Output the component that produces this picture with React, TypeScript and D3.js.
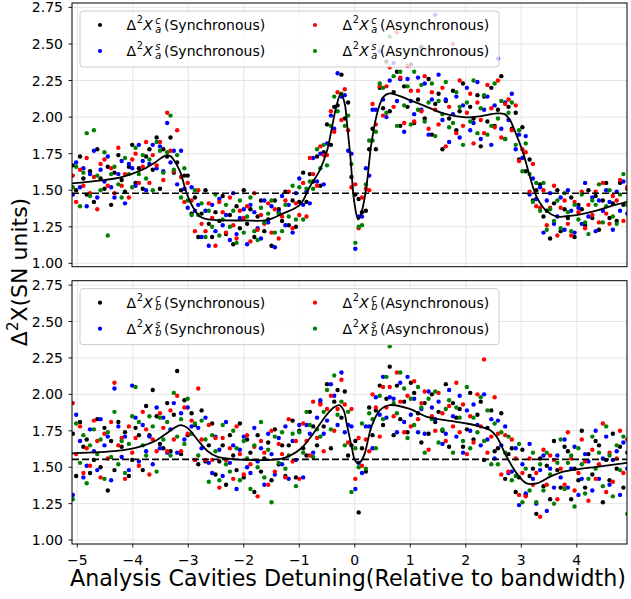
import React from "react";
import * as d3 from "d3";

// Detuning grid (relative to bandwidth) shared by all measured series
const DETUNING = [
  -5.08,-5.02,-4.95,-4.89,-4.83,-4.77,-4.70,-4.64,-4.58,-4.51,
  -4.45,-4.39,-4.33,-4.26,-4.20,-4.14,-4.07,-4.01,-3.95,-3.89,
  -3.82,-3.76,-3.70,-3.64,-3.57,-3.51,-3.45,-3.38,-3.32,-3.26,
  -3.20,-3.13,-3.07,-3.01,-2.94,-2.88,-2.82,-2.76,-2.69,-2.63,
  -2.57,-2.51,-2.44,-2.38,-2.32,-2.25,-2.19,-2.13,-2.07,-2.00,
  -1.94,-1.88,-1.81,-1.75,-1.69,-1.63,-1.56,-1.50,-1.44,-1.37,
  -1.31,-1.25,-1.19,-1.12,-1.06,-1.00,-0.93,-0.87,-0.81,-0.75,
  -0.68,-0.62,-0.56,-0.50,-0.43,-0.37,-0.31,-0.24,-0.18,-0.12,
  -0.06,0.01,0.07,0.13,0.20,0.26,0.32,0.38,0.45,0.51,
  0.57,0.63,0.70,0.76,0.82,0.89,0.95,1.01,1.07,1.14,
  1.20,1.26,1.33,1.39,1.45,1.51,1.58,1.64,1.70,1.77,
  1.83,1.89,1.95,2.02,2.08,2.14,2.21,2.27,2.33,2.39,
  2.46,2.52,2.58,2.64,2.71,2.77,2.83,2.90,2.96,3.02,
  3.08,3.15,3.21,3.27,3.34,3.40,3.46,3.52,3.59,3.65,
  3.71,3.78,3.84,3.90,3.96,4.03,4.09,4.15,4.21,4.28,
  4.34,4.40,4.47,4.53,4.59,4.65,4.72,4.78,4.84,4.91,
];

// ---- Panel a ----
const A_SYNC_C = [
  1.67,1.50,1.73,1.58,1.47,1.63,1.42,1.78,1.58,1.51,
  1.66,1.40,1.62,1.74,1.57,1.49,1.66,1.81,1.55,1.65,
  1.51,1.73,1.78,1.64,1.86,1.51,1.78,1.73,1.86,1.62,
  1.69,1.50,1.60,1.60,1.34,1.45,1.18,1.34,1.50,1.27,
  1.18,1.35,1.29,1.46,1.20,1.33,1.13,1.39,1.24,1.50,
  1.27,1.37,1.18,1.32,1.43,1.22,1.30,1.12,1.43,1.37,
  1.29,1.49,1.26,1.43,1.25,1.42,1.62,1.42,1.61,1.56,
  1.73,1.53,1.76,1.95,1.81,2.07,2.08,2.29,1.99,2.10,
  1.59,1.47,1.44,1.35,1.36,1.78,1.92,1.78,2.20,2.06,
  2.38,2.04,2.17,2.31,1.94,2.21,2.07,2.36,1.96,2.12,
  2.48,1.99,2.26,1.88,2.09,2.16,1.78,2.11,1.99,2.18,
  1.91,2.04,2.23,2.44,2.07,1.99,2.15,1.80,2.14,1.97,
  2.20,1.94,2.05,2.28,1.85,2.07,1.92,2.03,1.71,1.93,
  1.63,1.71,1.43,1.50,1.54,1.32,1.36,1.17,1.41,1.50,
  1.22,1.37,1.31,1.45,1.18,1.40,1.37,1.26,1.50,1.31,
  1.46,1.23,1.43,1.55,1.31,1.41,1.29,1.55,1.40,1.51,
];
const A_SYNC_S = [
  1.47,1.69,1.52,1.65,1.39,1.61,1.77,1.45,1.64,1.56,
  1.73,1.52,1.45,1.61,1.70,1.41,1.68,1.65,1.53,1.81,
  1.70,1.50,1.68,1.81,1.65,1.80,1.63,1.96,1.69,1.77,
  1.54,1.77,1.51,1.38,1.52,1.36,1.40,1.18,1.36,1.12,
  1.40,1.22,1.44,1.26,1.33,1.16,1.48,1.20,1.31,1.37,
  1.13,1.40,1.35,1.24,1.17,1.43,1.28,1.39,1.11,1.35,
  1.46,1.26,1.40,1.21,1.48,1.58,1.40,1.49,1.41,1.72,
  1.56,1.75,1.54,1.82,2.01,1.92,2.30,2.14,2.15,1.77,
  1.75,1.10,1.32,1.32,1.65,1.60,2.05,2.05,2.45,2.12,
  2.00,2.25,2.37,2.11,2.26,1.90,2.26,2.11,2.02,2.27,
  2.05,2.23,1.88,2.12,2.70,2.29,1.98,2.12,1.83,2.02,
  2.14,1.86,2.08,2.20,1.91,1.96,2.24,1.85,2.05,2.14,
  1.81,2.08,2.40,1.92,2.10,1.98,2.16,1.78,1.88,1.72,
  1.87,1.47,1.58,1.44,1.52,1.21,1.43,1.48,1.27,1.32,
  1.45,1.23,1.50,1.36,1.21,1.38,1.27,1.55,1.32,1.45,
  1.22,1.43,1.36,1.50,1.42,1.23,1.49,1.36,1.56,1.34,
];
const A_ASYNC_C = [
  1.60,1.42,1.64,1.53,1.72,1.48,1.59,1.37,1.68,1.71,
  1.53,1.65,1.48,1.79,1.53,1.61,1.45,1.71,1.75,1.55,
  1.66,1.83,1.55,1.74,1.67,1.83,1.57,2.03,1.77,1.63,
  1.91,1.59,1.42,1.55,1.43,1.22,1.50,1.27,1.22,1.41,
  1.31,1.12,1.42,1.35,1.21,1.45,1.26,1.17,1.36,1.31,
  1.39,1.15,1.48,1.23,1.33,1.27,1.41,1.21,1.37,1.17,
  1.32,1.43,1.49,1.24,1.41,1.33,1.55,1.32,1.72,1.61,
  1.53,1.80,1.74,1.74,2.04,1.90,2.17,1.98,2.19,1.91,
  1.52,1.54,1.24,1.45,1.51,1.50,2.09,1.95,2.21,2.01,
  2.21,2.34,2.07,2.58,2.27,1.96,2.35,2.18,1.97,2.18,
  2.04,2.28,1.92,2.17,2.05,1.95,2.20,1.80,2.07,2.50,
  1.89,2.25,1.94,2.03,2.16,1.82,2.10,1.98,1.89,2.22,
  2.06,1.93,2.25,1.86,2.09,2.12,1.91,2.08,1.70,1.78,
  1.76,1.49,1.68,1.39,1.38,1.50,1.26,1.38,1.53,1.19,
  1.38,1.43,1.27,1.19,1.42,1.35,1.49,1.24,1.40,1.33,
  1.49,1.28,1.55,1.34,1.27,1.46,1.43,1.57,1.29,1.52,
];
const A_ASYNC_S = [
  1.52,1.66,1.39,1.62,1.89,1.46,1.91,1.60,1.50,1.76,
  1.19,1.61,1.66,1.54,1.45,1.72,1.61,1.52,1.79,1.61,
  1.74,1.58,1.71,1.50,1.83,1.77,1.62,1.76,2.01,1.64,
  1.74,1.45,1.65,1.43,1.33,1.50,1.33,1.41,1.18,1.36,
  1.25,1.47,1.19,1.30,1.40,1.25,1.36,1.14,1.43,1.21,
  1.32,1.45,1.22,1.16,1.38,1.28,1.34,1.43,1.21,1.34,
  1.22,1.40,1.32,1.53,1.30,1.52,1.30,1.51,1.56,1.51,
  1.78,1.65,1.81,1.67,1.94,2.14,2.04,2.16,1.94,2.01,
  1.68,1.14,1.25,1.26,1.54,1.84,1.84,1.90,2.23,2.20,
  2.03,2.55,2.28,1.94,2.31,2.08,2.21,1.95,2.31,2.05,
  2.22,1.97,2.10,2.23,1.87,2.11,2.02,2.24,1.93,1.96,
  2.17,2.07,1.81,2.10,1.97,2.25,1.89,2.06,2.15,1.88,
  1.94,2.23,1.99,2.11,1.85,2.03,2.10,1.81,1.91,1.63,
  1.82,1.61,1.42,1.55,1.36,1.55,1.23,1.37,1.29,1.43,
  1.24,1.48,1.35,1.22,1.40,1.30,1.47,1.28,1.20,1.43,
  1.40,1.54,1.28,1.39,1.50,1.32,1.27,1.47,1.61,1.40,
];

// ---- Panel b ----
const B_SYNC_C = [
  1.73,1.44,1.81,1.64,1.69,1.46,1.55,1.83,1.50,1.77,
  1.34,1.68,1.48,1.81,1.64,1.74,1.44,1.55,1.77,1.72,
  1.48,1.92,1.72,2.03,1.85,1.66,1.63,1.94,1.61,1.86,
  2.16,1.59,1.96,1.72,1.87,1.79,1.52,1.89,1.54,1.65,
  1.80,1.45,1.54,1.65,1.38,1.72,1.58,1.48,1.80,1.43,
  1.69,1.60,1.33,1.72,1.47,1.56,1.67,1.41,1.76,1.52,
  1.65,1.44,1.65,1.82,1.43,1.75,1.63,1.58,1.88,1.78,
  1.65,1.94,1.78,2.07,1.63,1.95,2.03,1.84,2.02,1.58,
  1.65,1.68,1.19,1.63,1.47,1.91,1.72,1.89,2.06,1.79,
  1.97,2.19,1.72,2.06,1.83,1.95,1.74,2.08,2.01,1.87,
  1.67,1.94,1.73,2.00,1.81,1.88,1.75,2.07,1.64,1.94,
  1.84,1.90,1.64,1.76,2.01,1.69,1.86,1.95,1.55,1.77,
  1.89,1.61,1.63,1.87,1.42,1.59,1.63,1.33,1.43,1.62,
  1.31,1.44,1.49,1.18,1.56,1.37,1.51,1.28,1.68,1.48,
  1.36,1.64,1.61,1.28,1.49,1.41,1.75,1.36,1.59,1.45,
  1.68,1.65,1.26,1.55,1.41,1.73,1.49,1.64,1.36,1.60,
];
const B_SYNC_S = [
  1.31,1.86,1.68,1.43,1.51,1.76,1.61,1.48,1.83,1.65,
  1.71,1.41,2.04,1.78,1.57,1.71,1.48,2.06,1.84,1.54,
  1.79,1.61,1.71,1.52,1.91,1.63,1.84,1.60,1.76,1.94,
  1.60,1.87,1.69,1.91,1.78,1.55,1.77,1.63,1.84,1.53,
  1.46,1.71,1.62,1.44,1.81,1.53,1.65,1.35,1.62,1.71,
  1.50,1.46,1.77,1.54,1.63,1.38,1.73,1.59,1.45,1.70,
  1.52,1.78,1.42,1.68,1.55,1.79,1.43,1.79,1.73,1.60,
  1.84,1.96,1.73,1.82,2.07,1.99,1.79,2.15,1.74,1.79,
  1.78,1.35,1.53,1.46,1.78,1.78,1.63,1.98,1.86,2.12,
  1.84,1.98,1.97,1.74,2.08,1.81,2.12,1.86,1.97,1.74,
  1.90,1.73,2.02,1.91,1.83,1.95,1.66,1.73,2.03,1.85,
  1.71,1.99,1.60,1.89,1.75,1.93,1.79,1.65,2.00,1.69,
  1.83,1.56,1.82,1.65,1.78,1.46,1.47,1.63,1.24,1.52,
  1.32,1.66,1.42,1.25,1.48,1.58,1.20,1.49,1.36,1.58,
  1.43,1.69,1.36,1.49,1.64,1.31,1.42,1.59,1.54,1.34,
  1.75,1.42,1.56,1.71,1.38,1.55,1.61,1.31,1.67,1.49,
];
const B_ASYNC_C = [
  1.94,1.59,1.78,1.46,1.63,1.51,1.82,1.68,1.43,1.73,
  1.56,1.81,2.08,1.65,1.70,1.42,1.78,1.60,1.70,1.51,
  1.88,1.76,1.45,1.69,1.61,1.87,1.77,1.61,1.89,1.69,
  1.99,1.61,1.91,1.73,1.82,1.55,2.04,1.69,1.55,1.79,
  1.55,1.70,1.36,1.70,1.55,1.63,1.42,1.78,1.59,1.45,
  1.72,1.52,1.64,1.30,1.68,1.60,1.38,1.75,1.47,1.66,
  1.59,1.43,1.83,1.54,1.68,1.42,1.80,1.68,1.58,1.95,
  1.70,1.93,1.61,1.90,1.99,1.75,1.90,2.10,1.93,1.67,
  1.90,1.42,1.70,1.51,1.69,1.61,2.00,1.91,1.71,2.05,
  1.91,2.05,1.85,2.15,1.95,1.74,1.99,1.78,2.09,1.83,
  1.94,2.02,1.62,1.85,1.75,2.01,1.87,1.68,1.92,1.78,
  2.08,1.74,1.93,1.59,1.85,1.67,2.00,1.78,2.24,1.60,
  1.71,1.98,1.73,1.45,1.72,1.47,1.69,1.56,1.31,1.46,
  1.30,1.56,1.38,1.46,1.16,1.62,1.38,1.58,1.55,1.28,
  1.49,1.38,1.74,1.56,1.34,1.46,1.69,1.54,1.27,1.62,
  1.42,1.52,1.80,1.33,1.60,1.40,1.56,1.75,1.46,1.69,
];
const B_ASYNC_S = [
  1.28,1.80,1.53,1.72,1.39,1.65,1.76,1.59,1.69,1.42,
  1.74,1.57,1.88,1.52,1.68,1.46,1.66,1.85,2.05,1.81,
  1.65,1.58,1.85,1.78,1.47,1.84,1.69,1.81,1.58,2.01,
  1.71,1.83,1.66,1.97,1.73,1.80,1.58,1.82,1.69,1.40,
  1.72,1.61,1.41,1.79,1.52,1.47,1.75,1.63,1.41,1.68,
  1.56,1.35,1.65,1.50,1.81,1.43,1.62,1.26,1.71,1.53,
  1.74,1.49,1.58,1.73,1.37,1.74,1.60,1.88,1.79,1.57,
  1.76,1.71,1.88,2.03,1.76,2.13,1.86,1.95,1.65,1.88,
  1.33,1.63,1.50,1.80,1.49,1.87,1.83,1.63,1.99,1.83,
  2.12,2.33,1.94,1.87,2.15,2.04,1.70,1.97,1.79,2.05,
  1.91,1.60,1.97,1.83,2.02,1.67,1.76,1.90,1.96,1.60,
  1.91,1.84,1.68,2.05,1.63,1.84,1.74,1.98,1.68,1.89,
  1.52,1.80,1.52,1.74,1.60,1.71,1.41,1.44,1.66,1.26,
  1.49,1.34,1.60,1.26,1.52,1.34,1.60,1.45,1.25,1.53,
  1.69,1.35,1.53,1.58,1.23,1.63,1.52,1.32,1.42,1.71,
  1.49,1.60,1.37,1.78,1.58,1.30,1.65,1.48,1.71,1.18,
];

// Fitted (smooth) curves
const FIT_A_X = [-5.095,-4.8,-4.5,-4.2,-3.99,-3.8,-3.6,-3.42,-3.33,-3.27,-3.15,-3.03,-2.91,-2.79,-2.65,-2.49,-2.0,-1.58,-1.29,-0.99,-0.81,-0.63,-0.5,-0.42,-0.34,-0.25,-0.18,-0.146,-0.074,-0.014,0.063,0.13,0.21,0.30,0.42,0.52,0.63,0.8,0.995,1.3,1.595,2.016,2.3,2.557,2.7,2.796,2.9,3.036,3.15,3.277,3.45,3.638,3.8,3.998,4.3,4.6,4.905];
const FIT_A_Y = [1.547,1.557,1.57,1.59,1.615,1.645,1.69,1.735,1.735,1.712,1.63,1.48,1.38,1.32,1.30,1.296,1.293,1.296,1.342,1.40,1.524,1.638,1.77,1.911,2.06,2.162,2.09,1.98,1.706,1.433,1.30,1.36,1.524,1.82,2.05,2.14,2.162,2.145,2.116,2.07,2.025,1.998,2.008,2.025,2.02,1.98,1.89,1.752,1.60,1.455,1.36,1.319,1.322,1.33,1.355,1.39,1.421];
const FIT_B_X = [-5.095,-4.8,-4.5,-4.2,-3.99,-3.8,-3.6,-3.4,-3.25,-3.14,-3.0,-2.9,-2.78,-2.65,-2.48,-2.2,-1.9,-1.58,-1.3,-0.98,-0.75,-0.51,-0.38,-0.28,-0.2,-0.146,-0.056,0.0,0.063,0.12,0.18,0.30,0.45,0.63,0.99,1.3,1.6,2.016,2.25,2.436,2.557,2.737,2.917,3.097,3.277,3.517,3.757,3.998,4.358,4.905];
const FIT_B_Y = [1.595,1.60,1.605,1.615,1.629,1.65,1.68,1.73,1.77,1.789,1.765,1.72,1.663,1.61,1.572,1.555,1.55,1.549,1.56,1.625,1.73,1.858,1.91,1.926,1.89,1.80,1.64,1.55,1.526,1.545,1.595,1.777,1.89,1.926,1.90,1.846,1.825,1.80,1.78,1.755,1.709,1.572,1.458,1.389,1.389,1.434,1.469,1.485,1.503,1.53];

const BASELINE_A = 1.479;
const BASELINE_B = 1.554;

const X_DOMAIN = [-5.095, 4.905];
const Y_DOMAIN_A = [0.977, 2.78];
const Y_DOMAIN_B = [0.973, 2.78];
const X_TICKS = [-5, -4, -3, -2, -1, 0, 1, 2, 3, 4];
const Y_TICKS = [1.0, 1.25, 1.5, 1.75, 2.0, 2.25, 2.5, 2.75];

const SERIES_COLORS = ["#000000", "#0000ff", "#ff0000", "#008000"];
const SERIES_SUP = ["c", "s", "c", "s"];
const SERIES_MODE = ["(Synchronous)", "(Synchronous)", "(Asynchronous)", "(Asynchronous)"];

const W = 631;
const H = 599;
const LEFT = 72;
const RIGHT = 627;
const FONT = "DejaVu Sans, sans-serif";

function fmt(v: number, digits: number) {
  const s = Math.abs(v).toFixed(digits);
  return v < 0 ? "\u2212" + s : s;
}

function LegendLabel({ x, y, sup, sub, tail }: { x: number; y: number; sup: string; sub: string; tail: string }) {
  return (
    <text y={y} fontFamily={FONT} fontSize={14} fill="#000">
      <tspan x={x}>Δ</tspan>
      <tspan x={x + 10.4} dy={-6.6} fontSize={9.8}>2</tspan>
      <tspan x={x + 16.9} dy={6.6} fontStyle="italic">X</tspan>
      <tspan x={x + 28.8} dy={-6} fontSize={9.8} fontStyle="italic">{sup}</tspan>
      <tspan x={x + 28.8} dy={8.6} fontSize={9.8} fontStyle="italic">{sub}</tspan>
      <tspan x={x + 37.6} dy={-2.6}>{tail}</tspan>
    </text>
  );
}

function Panel(props: {
  top: number; bottom: number; yDomain: number[]; series: number[][];
  fitX: number[]; fitY: number[]; baseline: number; sub: string; showX: boolean; clipId: string;
}) {
  const { top, bottom, yDomain, series, fitX, fitY, baseline, sub, showX, clipId } = props;
  const x = d3.scaleLinear().domain(X_DOMAIN).range([LEFT, RIGHT]);
  const y = d3.scaleLinear().domain(yDomain).range([bottom, top]);
  const fitPath = d3
    .line<number>()
    .x((_, i) => x(fitX[i]))
    .y((d) => y(d))
    .curve(d3.curveCatmullRom.alpha(0.5))(fitY) as string;

  const legendTop = top + 8;
  const rowY = [top + 22, top + 48];
  const colMarker = [100, 315];
  const colText = [126.4, 342.4];

  return (
    <g>
      <defs>
        <clipPath id={clipId}>
          <rect x={LEFT} y={top} width={RIGHT - LEFT} height={bottom - top} />
        </clipPath>
      </defs>
      <g stroke="#e3e3e3" strokeWidth={0.9}>
        {X_TICKS.map((t) => (
          <line key={"gx" + t} x1={x(t)} x2={x(t)} y1={top} y2={bottom} />
        ))}
        {Y_TICKS.map((t) => (
          <line key={"gy" + t} x1={LEFT} x2={RIGHT} y1={y(t)} y2={y(t)} />
        ))}
      </g>
      <g clipPath={`url(#${clipId})`}>
        {series.map((vals, si) => (
          <g key={"s" + si} fill={SERIES_COLORS[si]}>
            {vals.map((v, i) => (
              <circle key={i} cx={x(DETUNING[i])} cy={y(v)} r={2.2} />
            ))}
          </g>
        ))}
        <path d={fitPath} fill="none" stroke="#000" strokeWidth={1.8} />
        <line x1={LEFT} x2={RIGHT} y1={y(baseline)} y2={y(baseline)} stroke="#000" strokeWidth={1.6} strokeDasharray="7,3" />
      </g>
      <rect x={LEFT} y={top} width={RIGHT - LEFT} height={bottom - top} fill="none" stroke="#000" strokeWidth={1} />
      {Y_TICKS.map((t) => (
        <g key={"yt" + t}>
          <line x1={LEFT - 3.5} x2={LEFT} y1={y(t)} y2={y(t)} stroke="#000" strokeWidth={0.9} />
          <text x={LEFT - 9} y={y(t)} dy="0.36em" textAnchor="end" fontFamily={FONT} fontSize={14} fill="#000">
            {fmt(t, 2)}
          </text>
        </g>
      ))}
      {showX &&
        X_TICKS.map((t) => (
          <g key={"xt" + t}>
            <line x1={x(t)} x2={x(t)} y1={bottom} y2={bottom + 3.5} stroke="#000" strokeWidth={0.9} />
            <text x={x(t)} y={bottom + 20.5} textAnchor="middle" fontFamily={FONT} fontSize={14} fill="#000">
              {fmt(t, 0)}
            </text>
          </g>
        ))}
      <rect x={80} y={legendTop} width={419} height={56} rx={3} fill="#fff" fillOpacity={0.8} stroke="#cccccc" strokeWidth={1} />
      {[0, 1, 2, 3].map((si) => {
        const col = si < 2 ? 0 : 1;
        const row = si % 2;
        return (
          <g key={"lg" + si}>
            <circle cx={colMarker[col]} cy={rowY[row]} r={2.1} fill={SERIES_COLORS[si]} />
            <LegendLabel x={colText[col]} y={rowY[row] + 5} sup={SERIES_SUP[si]} sub={sub} tail={SERIES_MODE[si]} />
          </g>
        );
      })}
    </g>
  );
}

export default function App() {
  return (
    <svg
      width={W}
      height={H}
      viewBox={`0 0 ${W} ${H}`}
      style={{ position: "absolute", left: 0, top: 0, background: "#fff" }}
    >
      <rect x={0} y={0} width={W} height={H} fill="#fff" />
      <Panel
        top={3}
        bottom={266.7}
        yDomain={Y_DOMAIN_A}
        series={[A_SYNC_C, A_SYNC_S, A_ASYNC_C, A_ASYNC_S]}
        fitX={FIT_A_X}
        fitY={FIT_A_Y}
        baseline={BASELINE_A}
        sub="a"
        showX={false}
        clipId="clipA"
      />
      <Panel
        top={280.7}
        bottom={544}
        yDomain={Y_DOMAIN_B}
        series={[B_SYNC_C, B_SYNC_S, B_ASYNC_C, B_ASYNC_S]}
        fitX={FIT_B_X}
        fitY={FIT_B_Y}
        baseline={BASELINE_B}
        sub="b"
        showX={true}
        clipId="clipB"
      />
      <text x={348} y={586} textAnchor="middle" fontFamily={FONT} fontSize={22.2} fill="#000">
        Analysis Cavities Detuning(Relative to bandwidth)
      </text>
      <g transform="translate(27,272) rotate(-90)">
        <text x={0} y={0} textAnchor="middle" fontFamily={FONT} fontSize={22} fill="#000">
          <tspan>Δ</tspan>
          <tspan dy={-9} fontSize={15}>2</tspan>
          <tspan dy={9}>X(SN units)</tspan>
        </text>
      </g>
    </svg>
  );
}
